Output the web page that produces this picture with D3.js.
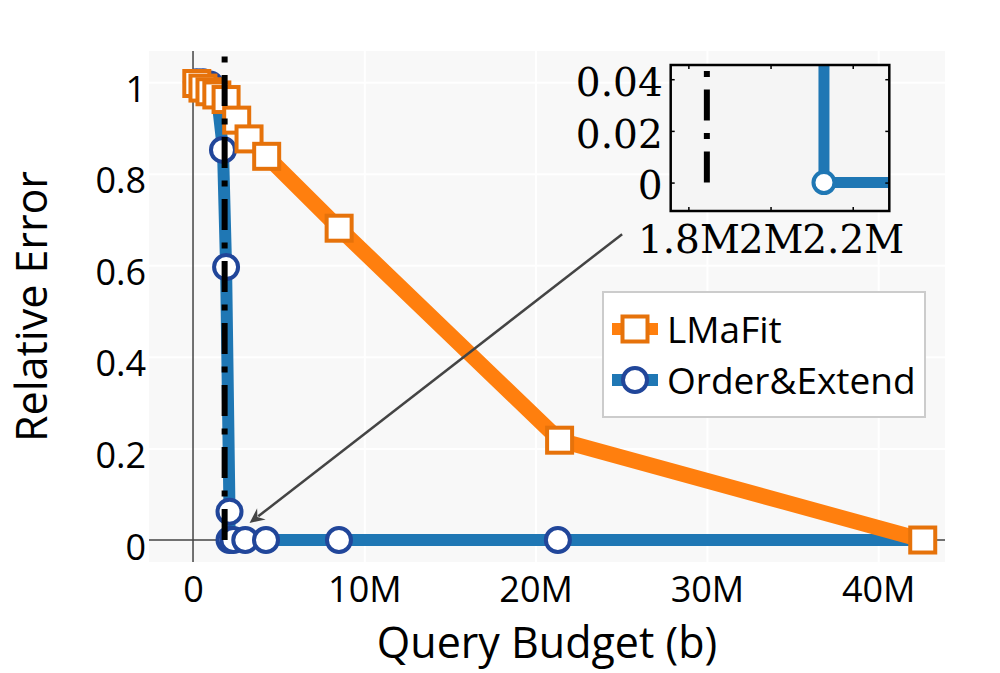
<!DOCTYPE html>
<html>
<head>
<meta charset="utf-8">
<style>
body { margin: 0; background: #fff; }
text { font-family: "Open Sans", sans-serif; fill: #000; }
.grid line { stroke: #fff; stroke-width: 2; }
.grid path, .axis path, .inset-axis path { display: none; }
.axis text { font-size: 36px; font-family: "Open Sans", sans-serif; fill: #000; }
.inset-axis text { font-size: 39px; font-family: "DejaVu Serif", serif; fill: #000; }
.inset-axis line { stroke: #000; stroke-width: 1.5; }
</style>
</head>
<body>
<svg width="1000" height="673"></svg>
<script src="https://d3js.org/d3.v7.min.js"></script>
<script>
// query budget in millions
var lmafitX = [0.22, 0.58, 0.99, 1.39, 1.93, 2.55, 3.27, 4.30, 8.53, 21.4, 42.6];
var lmafitY = [0.997, 0.987, 0.979, 0.972, 0.962, 0.917, 0.876, 0.838, 0.681, 0.218, 0.0];
var orderX = [0.22, 0.58, 0.99, 1.39, 1.75, 1.93, 2.13, 2.13, 2.35, 3.05, 4.26, 8.52, 21.3, 42.6];
var orderY = [1.0, 1.0, 0.995, 0.972, 0.852, 0.596, 0.062, 0, 0, 0, 0, 0, 0, 0];
var thresholdX = 1.845;
var xTicks = [0, 10, 20, 30, 40];
var yTicks = [0, 0.2, 0.4, 0.6, 0.8, 1];
var insetXTicks = [1.8, 2.0, 2.2];
var insetYTicks = [0, 0.02, 0.04];
var arrowFrom = [25.05, 0.668], arrowTo = [3.3, 0.037];
var seriesNames = ["LMaFit", "Order&Extend"];

var svg = d3.select("svg");
var L = 149, R = 945, T = 51, B = 562;

var x = d3.scaleLinear().domain([-2.57, 43.9]).range([L, R]);
var y = d3.scaleLinear().domain([-0.048, 1.068]).range([B, T]);

var orange = "#ff7f0e", orangeDark = "#e6720a", blue = "#1f77b4", blueDark = "#21469a";

svg.append("rect").attr("x", L).attr("y", T).attr("width", R - L).attr("height", B - T).attr("fill", "#f8f8f8");

svg.append("defs").append("clipPath").attr("id", "plot").append("rect")
  .attr("x", L).attr("y", T).attr("width", R - L).attr("height", B - T);

// grid
svg.append("g").attr("class", "grid").attr("transform", "translate(0," + B + ")")
  .call(d3.axisBottom(x).tickValues(xTicks.slice(1)).tickSize(-(B - T)).tickFormat(""));
svg.append("g").attr("class", "grid").attr("transform", "translate(" + L + ",0)")
  .call(d3.axisLeft(y).tickValues(yTicks.slice(1)).tickSize(-(R - L)).tickFormat(""));

// zero lines
svg.append("line").attr("x1", x(0)).attr("x2", x(0)).attr("y1", T).attr("y2", B)
  .attr("stroke", "#444").attr("stroke-width", 1.5);
svg.append("line").attr("x1", L).attr("x2", R).attr("y1", y(0)).attr("y2", y(0))
  .attr("stroke", "#444").attr("stroke-width", 1.5);

// tick labels
var xa = svg.append("g").attr("class", "axis").attr("transform", "translate(0,602)")
  .call(d3.axisBottom(x).tickValues(xTicks).tickSize(0)
    .tickFormat(function(d) { return d === 0 ? "0" : d + "M"; }));
xa.selectAll("text").attr("y", 0).attr("dy", null);

var ya = svg.append("g").attr("class", "axis").attr("transform", "translate(" + L + ",0)")
  .call(d3.axisLeft(y).tickValues(yTicks).tickSize(0).tickPadding(3)
    .tickFormat(function(d) { return d3.format("~g")(d); }));
ya.selectAll("text").attr("dy", "0.53em");

// axis titles
svg.append("text").attr("x", (L + R) / 2).attr("y", 658).attr("text-anchor", "middle")
  .attr("font-size", 43).text("Query Budget (b)");
svg.append("text").attr("transform", "translate(47," + (T + B) / 2 + ") rotate(-90)")
  .attr("text-anchor", "middle").attr("font-size", 43).text("Relative Error");

var plot = svg.append("g").attr("clip-path", "url(#plot)");

var orderPts = orderX.map(function(v, i) { return [v, orderY[i]]; });
var lmafitPts = lmafitX.map(function(v, i) { return [v, lmafitY[i]]; });
var line = d3.line().x(function(d) { return x(d[0]); }).y(function(d) { return y(d[1]); });

// Order&Extend
plot.append("path").datum(orderPts).attr("d", line).attr("fill", "none")
  .attr("stroke", blue).attr("stroke-width", 12).attr("stroke-linejoin", "round");
plot.selectAll(".oe").data(orderPts).enter().append("circle")
  .attr("cx", function(d) { return x(d[0]); }).attr("cy", function(d) { return y(d[1]); })
  .attr("r", 12).attr("fill", "#fff").attr("stroke", blueDark).attr("stroke-width", 4);

// LMaFit
plot.append("path").datum(lmafitPts).attr("d", line).attr("fill", "none")
  .attr("stroke", orange).attr("stroke-width", 15.5).attr("stroke-linejoin", "round");
plot.selectAll(".lm").data(lmafitPts).enter().append("rect")
  .attr("x", function(d) { return x(d[0]) - 12.5; }).attr("y", function(d) { return y(d[1]) - 12.5; })
  .attr("width", 25).attr("height", 25).attr("fill", "#fff").attr("stroke", orangeDark).attr("stroke-width", 4);

// threshold line
plot.append("line").attr("x1", x(thresholdX)).attr("x2", x(thresholdX))
  .attr("y1", y(0)).attr("y2", y(1.1))
  .attr("stroke", "#000").attr("stroke-width", 6).attr("stroke-dasharray", "31,12.5,6,12.5");

// arrow annotation
var ax0 = x(arrowFrom[0]), ay0 = y(arrowFrom[1]), ax1 = x(arrowTo[0]), ay1 = y(arrowTo[1]);
var ang = Math.atan2(ay1 - ay0, ax1 - ax0);
var hl = 15, hw = 7;
function pt(dx, dy) {
  return [ax1 + dx * Math.cos(ang) - dy * Math.sin(ang), ay1 + dx * Math.sin(ang) + dy * Math.cos(ang)];
}
svg.append("line").attr("x1", ax0).attr("y1", ay0)
  .attr("x2", pt(-hl + 4, 0)[0]).attr("y2", pt(-hl + 4, 0)[1])
  .attr("stroke", "#444").attr("stroke-width", 2.5);
svg.append("path").attr("d", "M" + [pt(0, 0), pt(-hl, -hw), pt(-hl + 5, 0), pt(-hl, hw)].join("L") + "Z")
  .attr("fill", "#444");

// legend
var lg = svg.append("g");
lg.append("rect").attr("x", 603).attr("y", 292).attr("width", 322).attr("height", 125)
  .attr("fill", "#fff").attr("stroke", "#ccc").attr("stroke-width", 2);
[329, 380].forEach(function(ly, i) {
  lg.append("line").attr("x1", 612).attr("x2", 658).attr("y1", ly).attr("y2", ly)
    .attr("stroke", i === 0 ? orange : blue).attr("stroke-width", 12);
  if (i === 0) {
    lg.append("rect").attr("x", 635 - 12.5).attr("y", ly - 12.5).attr("width", 25).attr("height", 25)
      .attr("fill", "#fff").attr("stroke", orangeDark).attr("stroke-width", 4);
  } else {
    lg.append("circle").attr("cx", 635).attr("cy", ly).attr("r", 12)
      .attr("fill", "#fff").attr("stroke", blueDark).attr("stroke-width", 4);
  }
  lg.append("text").attr("x", 667).attr("y", ly + 14).attr("font-size", 37).text(seriesNames[i]);
});

// inset
var iL = 670.7, iR = 889.3, iT = 65, iB = 211;
var xi = d3.scaleLinear().domain([1.757, 2.289]).range([iL, iR]);
var yi = d3.scaleLinear().domain([-0.011, 0.0455]).range([iB, iT]);
svg.append("rect").attr("x", iL).attr("y", iT).attr("width", iR - iL).attr("height", iB - iT).attr("fill", "#f5f5f5");
svg.select("defs").append("clipPath").attr("id", "inset").append("rect")
  .attr("x", iL).attr("y", iT).attr("width", iR - iL).attr("height", iB - iT);
var ig = svg.append("g").attr("clip-path", "url(#inset)");
var lineI = d3.line().x(function(d) { return xi(d[0]); }).y(function(d) { return yi(d[1]); });
ig.append("path").datum(orderPts).attr("d", lineI).attr("fill", "none")
  .attr("stroke", blue).attr("stroke-width", 11);
ig.selectAll("circle").data(orderPts).enter().append("circle")
  .attr("cx", function(d) { return xi(d[0]); }).attr("cy", function(d) { return yi(d[1]); })
  .attr("r", 10.5).attr("fill", "#fff").attr("stroke", blue).attr("stroke-width", 4);
ig.append("line").attr("x1", xi(thresholdX)).attr("x2", xi(thresholdX))
  .attr("y1", yi(0)).attr("y2", yi(0.06))
  .attr("stroke", "#000").attr("stroke-width", 6).attr("stroke-dasharray", "31,12.5,6,12.5");

var fmtI = function(d) { return d3.format("~g")(d) + "M"; };
var ib = svg.append("g").attr("class", "inset-axis").attr("transform", "translate(0," + iB + ")")
  .call(d3.axisBottom(xi).tickValues(insetXTicks).tickSize(-4).tickPadding(0).tickFormat(fmtI));
ib.selectAll("text").attr("y", 42).attr("dy", null);
svg.append("g").attr("class", "inset-axis").attr("transform", "translate(0," + iT + ")")
  .call(d3.axisTop(xi).tickValues(insetXTicks).tickSize(-4).tickFormat(""));
var il = svg.append("g").attr("class", "inset-axis").attr("transform", "translate(" + iL + ",0)")
  .call(d3.axisLeft(yi).tickValues(insetYTicks).tickSize(-4).tickPadding(8)
    .tickFormat(function(d) { return d3.format("~g")(d); }));
il.selectAll("text").attr("dy", "0.42em");
svg.append("g").attr("class", "inset-axis").attr("transform", "translate(" + iR + ",0)")
  .call(d3.axisRight(yi).tickValues(insetYTicks).tickSize(-4).tickFormat(""));
svg.append("rect").attr("x", iL).attr("y", iT).attr("width", iR - iL).attr("height", iB - iT)
  .attr("fill", "none").attr("stroke", "#000").attr("stroke-width", 2.5);
</script>
</body>
</html>
